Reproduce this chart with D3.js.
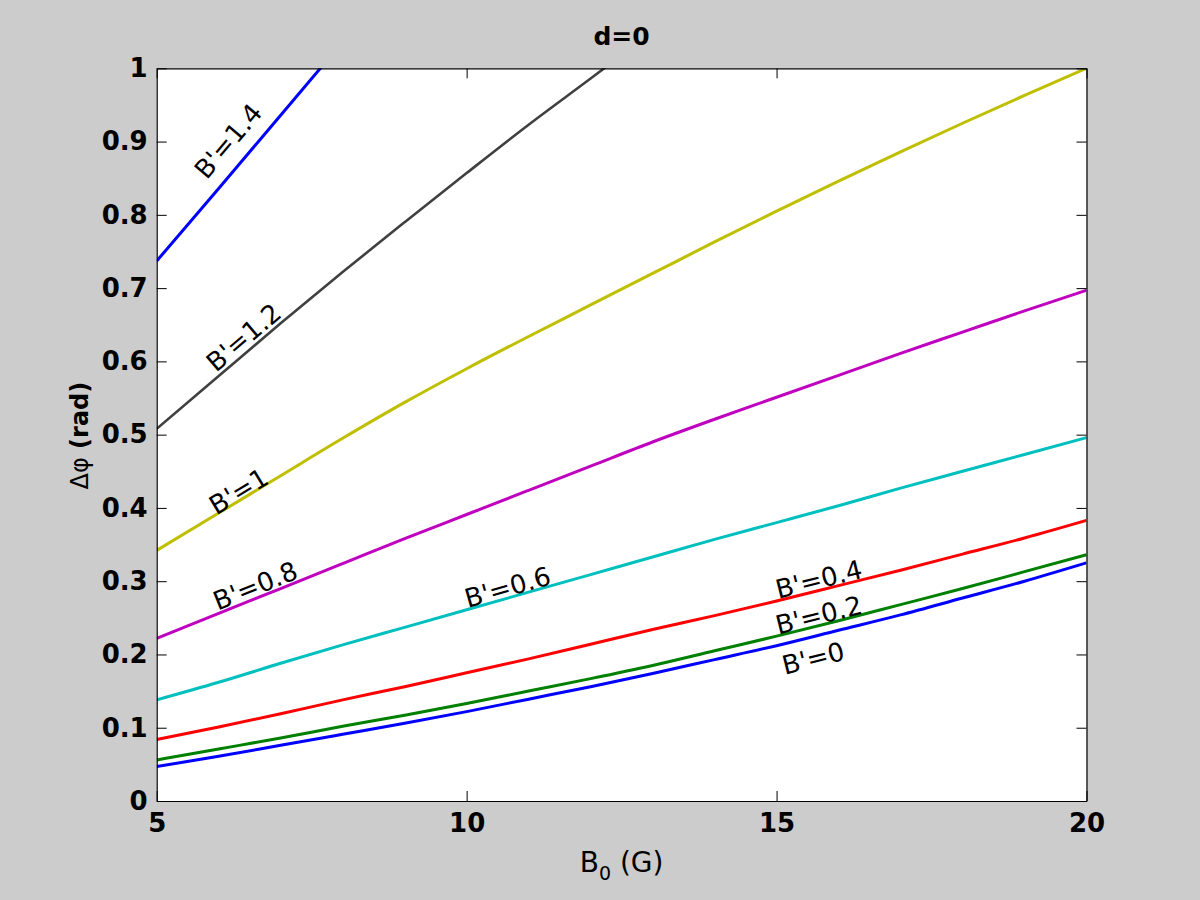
<!DOCTYPE html>
<html>
<head>
<meta charset="utf-8">
<script src="https://cdn.jsdelivr.net/npm/d3@7"></script>
<style>
  body { margin: 0; background: #cccccc; }
  svg { display: block; }
  .tick text { font-family: "DejaVu Sans", sans-serif; font-weight: bold; font-size: 26px; fill: #000; }
</style>
</head>
<body>
<svg id="chart"></svg>
<script>
var W = 1200, H = 900;
var margin = {left: 156.7, top: 68.3, right: 113.5, bottom: 99};
var width = W - margin.left - margin.right;
var height = H - margin.top - margin.bottom;

// B0 values (G)
var b0 = [5, 6, 7, 8, 9, 10, 11, 12, 13, 14, 15, 16, 17, 18, 19, 20];

// delta phi (rad) per B' value
var phi0   = [0.047, 0.061, 0.076, 0.091, 0.106, 0.122, 0.139, 0.156, 0.174, 0.193, 0.212, 0.233, 0.254, 0.277, 0.300, 0.325];
var phi02  = [0.056, 0.071, 0.086, 0.102, 0.117, 0.133, 0.150, 0.167, 0.185, 0.205, 0.225, 0.246, 0.268, 0.290, 0.313, 0.336];
var phi04  = [0.084, 0.101, 0.119, 0.138, 0.156, 0.175, 0.194, 0.214, 0.234, 0.253, 0.273, 0.294, 0.315, 0.337, 0.359, 0.383];
var phi06  = [0.138, 0.162, 0.188, 0.213, 0.237, 0.261, 0.285, 0.309, 0.333, 0.357, 0.380, 0.403, 0.427, 0.450, 0.473, 0.496];
var phi08  = [0.222, 0.256, 0.290, 0.324, 0.358, 0.391, 0.424, 0.457, 0.490, 0.521, 0.551, 0.581, 0.611, 0.640, 0.669, 0.697];
var phi10  = [0.342, 0.393, 0.444, 0.495, 0.544, 0.590, 0.634, 0.677, 0.720, 0.763, 0.805, 0.846, 0.886, 0.925, 0.963, 1.000];
var phi12  = [0.508, 0.580, 0.652, 0.722, 0.790, 0.857, 0.923, 0.986, 1.050];
var phi14  = [0.737, 0.836, 0.936, 1.036];

var seriesNames = ["B'=0", "B'=0.2", "B'=0.4", "B'=0.6", "B'=0.8", "B'=1", "B'=1.2", "B'=1.4"];
var seriesValues = [phi0, phi02, phi04, phi06, phi08, phi10, phi12, phi14];
var seriesColors = ["#0000ff", "#008000", "#ff0000", "#00bfbf", "#bf00bf", "#bfbf00", "#404040", "#0000ff"];

// where each curve label sits, in data units
var labelX = [15.59, 15.68, 15.68, 10.66, 6.59, 6.32, 6.40, 6.15];
var labelY = [0.195, 0.254, 0.303, 0.292, 0.294, 0.423, 0.633, 0.901];

var xTicks = [5, 10, 15, 20];
var yTicks = [0, 0.1, 0.2, 0.3, 0.4, 0.5, 0.6, 0.7, 0.8, 0.9, 1];

var svg = d3.select("#chart").attr("width", W).attr("height", H);

var x = d3.scaleLinear().domain([5, 20]).range([0, width]);
var y = d3.scaleLinear().domain([0, 1]).range([height, 0]);

var g = svg.append("g").attr("transform", `translate(${margin.left},${margin.top})`);

g.append("rect").attr("width", width).attr("height", height).attr("fill", "#fff");

g.append("clipPath").attr("id", "clip")
  .append("rect").attr("width", width).attr("height", height);

var line = d3.line()
  .curve(d3.curveMonotoneX)
  .x(d => x(d[0]))
  .y(d => y(d[1]));

var series = seriesValues.map((vals, i) => ({
  name: seriesNames[i],
  color: seriesColors[i],
  points: vals.map((v, j) => [b0[j], v])
}));

g.append("g").attr("clip-path", "url(#clip)")
  .selectAll("path")
  .data(series)
  .join("path")
    .attr("fill", "none")
    .attr("stroke", d => d.color)
    .attr("stroke-width", d => d.color == "#404040" ? 2.6 : 3)
    .attr("d", d => line(d.points));

// axes, ticks inside on all four sides
g.append("g")
  .attr("transform", `translate(0,${height})`)
  .call(d3.axisBottom(x).tickValues(xTicks).tickSize(-10).tickSizeOuter(0).tickPadding(13));
g.append("g")
  .call(d3.axisLeft(y).tickValues(yTicks).tickSize(-10).tickSizeOuter(0).tickPadding(9).tickFormat(d3.format("~g")));
g.append("g")
  .call(d3.axisTop(x).tickValues(xTicks).tickSize(-10).tickSizeOuter(0).tickFormat(""));
g.append("g")
  .attr("transform", `translate(${width},0)`)
  .call(d3.axisRight(y).tickValues(yTicks).tickSize(-10).tickSizeOuter(0).tickFormat(""));

g.selectAll(".domain").attr("stroke", "#000").attr("stroke-width", 1.2);
g.selectAll(".tick line").attr("stroke", "#000");

// curve labels rotated along the curve
function slopeAngle(s, xv) {
  var pts = s.points;
  var k = Math.max(0, Math.min(pts.length - 2, Math.floor(xv - pts[0][0])));
  var dx = x(pts[k + 1][0]) - x(pts[k][0]);
  var dy = y(pts[k + 1][1]) - y(pts[k][1]);
  return Math.atan2(dy, dx) * 180 / Math.PI;
}

g.append("g")
  .selectAll("text")
  .data(series)
  .join("text")
    .attr("font-family", "DejaVu Sans, sans-serif")
    .attr("font-size", 26)
    .attr("fill", "#000")
    .attr("text-anchor", "middle")
    .attr("dy", "0.36em")
    .attr("transform", (d, i) => `translate(${x(labelX[i])},${y(labelY[i])}) rotate(${slopeAngle(d, labelX[i])})`)
    .text(d => d.name);

// title
svg.append("text")
  .attr("x", margin.left + width / 2)
  .attr("y", 45)
  .attr("text-anchor", "middle")
  .attr("font-family", "DejaVu Sans, sans-serif")
  .attr("font-weight", "bold")
  .attr("font-size", 25)
  .text("d=0");

// x label with subscript
var xl = svg.append("text")
  .attr("x", margin.left + width / 2)
  .attr("y", 872)
  .attr("text-anchor", "middle")
  .attr("font-family", "DejaVu Sans, sans-serif")
  .attr("font-size", 28);
xl.append("tspan").text("B");
xl.append("tspan").attr("font-size", 19).attr("dy", 8).text("0");
xl.append("tspan").attr("dy", -8).text(" (G)");

// y label
var yl = svg.append("text")
  .attr("transform", `translate(88,${margin.top + height / 2 + 1}) rotate(-90)`)
  .attr("text-anchor", "middle")
  .attr("font-family", "DejaVu Sans, sans-serif")
  .attr("font-size", 24);
yl.append("tspan").text("Δφ");
yl.append("tspan").attr("font-weight", "bold").text(" (rad)");
</script>
</body>
</html>
